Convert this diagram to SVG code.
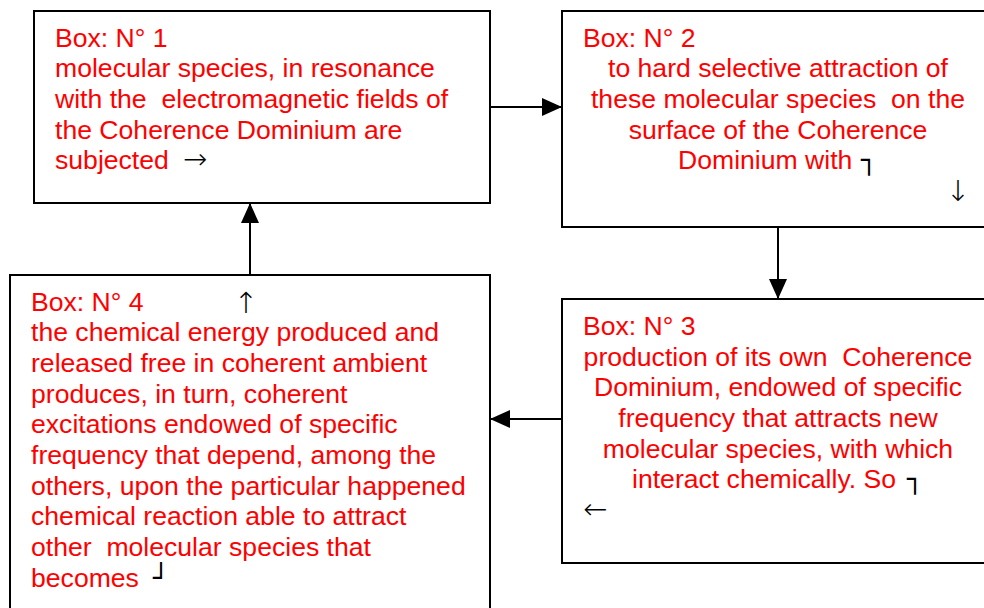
<svg xmlns="http://www.w3.org/2000/svg" width="984" height="608" viewBox="0 0 984 608">
<style>
.box{fill:#fff;stroke:#000;stroke-width:2}
.t{font-family:"Liberation Sans",Arial,sans-serif;font-size:26.6px;fill:#ff0000;white-space:pre}
.c{text-anchor:middle}
.sym{font-family:"DejaVu Sans",sans-serif;font-weight:200;font-size:29px;fill:#000}
.bx{font-family:"DejaVu Sans Mono",monospace;font-size:26.6px;fill:#000}
.con{stroke:#000;stroke-width:2;fill:none;marker-end:url(#ah)}
</style>
<defs>
<marker id="ah" markerUnits="userSpaceOnUse" markerWidth="20" markerHeight="18" refX="20" refY="9" orient="auto">
<path d="M0,0 L20,9 L0,18 z" fill="#000"/>
</marker>
</defs>
<rect width="984" height="608" fill="#fff"/>
<g id="node1">
<rect class="box" x="34" y="11" width="456" height="192"/>
<text class="t" x="55" y="46.7">Box: N° 1</text>
<text class="t" x="55" y="77.3">molecular species, in resonance</text>
<text class="t" x="55" y="108">with the  electromagnetic fields of</text>
<text class="t" x="55" y="138.7">the Coherence Dominium are</text>
<text class="t" x="55" y="169.3">subjected</text>
<text class="sym" x="183" y="169.3">→</text>
</g>
<g id="node2">
<rect class="box" x="562" y="11" width="440" height="216"/>
<text class="t" x="583" y="46.7">Box: N° 2</text>
<text class="t c" x="778" y="77.3">to hard selective attraction of</text>
<text class="t c" x="778" y="108">these molecular species  on the</text>
<text class="t c" x="778" y="138.7">surface of the Coherence</text>
<text class="t" x="678" y="169.3">Dominium with</text>
<text class="bx" x="861" y="169.3">┐</text>
<text class="sym c" x="958" y="201">↓</text>
</g>
<g id="node3">
<rect class="box" x="562" y="299" width="440" height="264"/>
<text class="t" x="583" y="335.3">Box: N° 3</text>
<text class="t c" x="778" y="365.7">production of its own  Coherence</text>
<text class="t c" x="778" y="396.3">Dominium, endowed of specific</text>
<text class="t c" x="778" y="427">frequency that attracts new</text>
<text class="t c" x="778" y="457.7">molecular species, with which</text>
<text class="t" x="632" y="488.3">interact chemically. So</text>
<text class="bx" x="907" y="488.3">┐</text>
<text class="sym" x="583" y="519">←</text>
</g>
<g id="node4">
<rect class="box" x="10" y="275" width="480" height="360"/>
<text class="t" x="31" y="310.7">Box: N° 4</text>
<text class="sym c" x="246" y="313">↑</text>
<text class="t" x="31" y="341.3">the chemical energy produced and</text>
<text class="t" x="31" y="372">released free in coherent ambient</text>
<text class="t" x="31" y="402.7">produces, in turn, coherent</text>
<text class="t" x="31" y="433.3">excitations endowed of specific</text>
<text class="t" x="31" y="464">frequency that depend, among the</text>
<text class="t" x="31" y="494.7">others, upon the particular happened</text>
<text class="t" x="31" y="525.3">chemical reaction able to attract</text>
<text class="t" x="31" y="556">other  molecular species that</text>
<text class="t" x="31" y="586.7">becomes</text>
<text class="bx" x="153" y="586.7">┘</text>
</g>
<g id="connectors">
<line class="con" x1="490" y1="107" x2="562" y2="107"/>
<line class="con" x1="778" y1="227" x2="778" y2="299"/>
<line class="con" x1="562" y1="419" x2="490" y2="419"/>
<line class="con" x1="250" y1="275" x2="250" y2="203"/>
</g>
</svg>
